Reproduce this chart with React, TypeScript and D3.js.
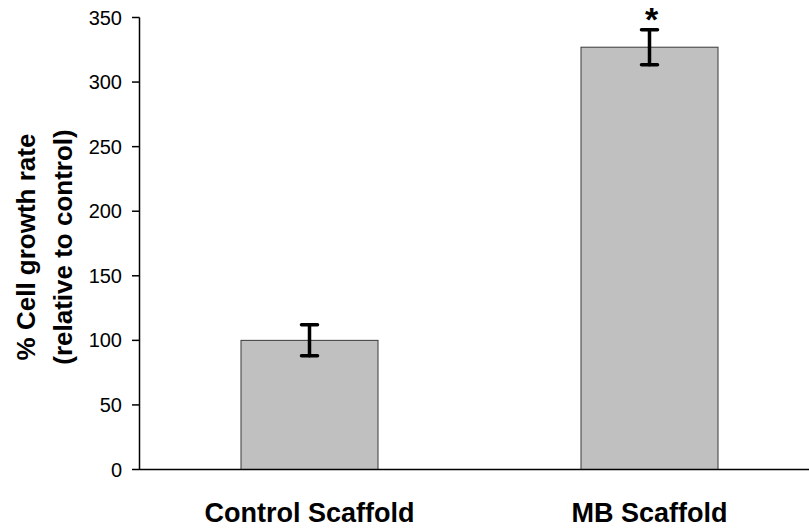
import React from "react";
import * as d3 from "d3";

// Cell growth rate relative to control, mean ± error
const categories = ["Control Scaffold", "MB Scaffold"];
const values = [100, 327];
const errors = [12, 13.5];
const significance = ["", "*"];
const yTicks = [0, 50, 100, 150, 200, 250, 300, 350];
const yTitleLines = ["% Cell growth rate", "(relative to control)"];

const W = 809;
const H = 529;
const FONT = "'Liberation Sans', Arial, Helvetica, sans-serif";

export default function App() {
  const x0 = 139.5;
  const y = d3.scaleLinear().domain([0, 350]).range([469.5, 17.5]);
  const x = d3
    .scaleBand<string>()
    .domain(categories)
    .range([x0, 819.5])
    .paddingInner(0.597)
    .paddingOuter(0.2985);
  const bw = x.bandwidth();
  const capHalf = 8;

  return (
    <svg
      width={W}
      height={H}
      style={{ position: "absolute", left: 0, top: 0, background: "#fff" }}
      fontFamily={FONT}
    >
      {/* bars */}
      {categories.map((c, i) => (
        <rect
          key={c}
          x={x(c)!}
          y={y(values[i])}
          width={bw}
          height={y(0) - y(values[i])}
          fill="#c0c0c0"
          stroke="#3a3a3a"
          strokeWidth={1}
        />
      ))}

      {/* error bars */}
      {categories.map((c, i) => {
        const cx = x(c)! + bw / 2;
        const hi = y(values[i] + errors[i]);
        const lo = y(values[i] - errors[i]);
        return (
          <g key={c + "-err"} stroke="#000" strokeWidth={3.5} strokeLinecap="round">
            <line x1={cx} x2={cx} y1={hi} y2={lo} />
            <line x1={cx - capHalf} x2={cx + capHalf} y1={hi} y2={hi} />
            <line x1={cx - capHalf} x2={cx + capHalf} y1={lo} y2={lo} />
          </g>
        );
      })}

      {/* significance markers */}
      {categories.map((c, i) =>
        significance[i] ? (
          <text
            key={c + "-sig"}
            x={x(c)! + bw / 2 + 2}
            y={y(values[i] + errors[i]) + 1}
            textAnchor="middle"
            fontSize={34}
            fontWeight="bold"
          >
            {significance[i]}
          </text>
        ) : null
      )}

      {/* y axis */}
      <line x1={x0} x2={x0} y1={y(350)} y2={y(0) + 0.5} stroke="#000" strokeWidth={1.5} />
      {yTicks.map((t) => (
        <g key={t}>
          <line x1={x0 - 7.5} x2={x0} y1={y(t)} y2={y(t)} stroke="#000" strokeWidth={1.5} />
          <text
            x={122}
            y={y(t)}
            dy="0.35em"
            textAnchor="end"
            fontSize={20}
            fill="#000"
          >
            {t}
          </text>
        </g>
      ))}

      {/* x axis */}
      <line x1={x0} x2={W} y1={y(0)} y2={y(0)} stroke="#000" strokeWidth={1.5} />
      {categories.map((c) => (
        <text
          key={c + "-lbl"}
          x={x(c)! + bw / 2}
          y={522}
          textAnchor="middle"
          fontSize={27}
          fontWeight="bold"
          fill="#000"
        >
          {c}
        </text>
      ))}

      {/* y axis title */}
      <g transform="translate(0,247) rotate(-90)">
        {yTitleLines.map((line, i) => (
          <text
            key={line}
            x={0}
            y={35 + i * 37}
            textAnchor="middle"
            fontSize={26}
            fontWeight="bold"
            fill="#000"
          >
            {line}
          </text>
        ))}
      </g>
    </svg>
  );
}
